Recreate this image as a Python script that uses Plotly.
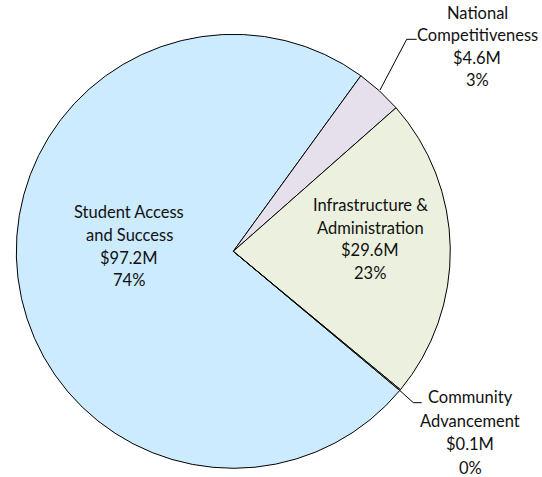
import plotly.graph_objects as go

# ---- data ----
categories = ["Student Access and Success", "National Competitiveness",
              "Infrastructure & Administration", "Community Advancement"]
values = [97.2, 4.6, 29.6, 0.1]
value_labels = ["$97.2M", "$4.6M", "$29.6M", "$0.1M"]
pct_labels = ["74%", "3%", "23%", "0%"]
name_lines = [["Student Access", "and Success"],
              ["National", "Competitiveness"],
              ["Infrastructure &", "Administration"],
              ["Community", "Advancement"]]
colors = ["#CCEBFF", "#E6E0EC", "#EBF1DE", "#EBF1DE"]

W, H = 542, 477
cx, cy, r = 233.3, 251.3, 217.0

fig = go.Figure(go.Pie(
    labels=categories, values=values, sort=False, direction="clockwise",
    rotation=129.9, textinfo="none", hoverinfo="skip",
    marker=dict(colors=colors, line=dict(color="#000000", width=1)),
    domain=dict(x=[(cx - r) / W, (cx + r) / W], y=[1 - (cy + r) / H, 1 - (cy - r) / H]),
    showlegend=False,
))

# label placement (pixel centre x, first-line y, line gap)
label_pos = [(129, 212, 22.8),
             (477, 13, 22.3),
             (370, 205, 22.7),
             (470, 397, 23.7)]

font = dict(family="Lato, Calibri, sans-serif", size=16.5, color="#111111")
annotations = []
for i in range(len(categories)):
    lines = name_lines[i] + [value_labels[i], pct_labels[i]]
    x, y0, gap = label_pos[i]
    for j, t in enumerate(lines):
        annotations.append(dict(x=x / W, y=1 - (y0 + j * gap) / H, xref="paper", yref="paper",
                                text=t, showarrow=False, xanchor="center", yanchor="middle",
                                font=font))

def seg(x0, y0, x1, y1):
    return dict(type="line", xref="paper", yref="paper", x0=x0 / W, y0=1 - y0 / H,
                x1=x1 / W, y1=1 - y1 / H, line=dict(color="#000000", width=1))

shapes = [seg(380, 90, 406.7, 39.3), seg(406.7, 39.3, 416.7, 39.3),
          seg(400, 390.7, 413.3, 402.7), seg(413.3, 402.7, 421.7, 402.7)]

fig.update_layout(width=W, height=H, margin=dict(l=0, r=0, t=0, b=0),
                  paper_bgcolor="white", plot_bgcolor="white",
                  annotations=annotations, shapes=shapes)
fig.write_html("out.html")
